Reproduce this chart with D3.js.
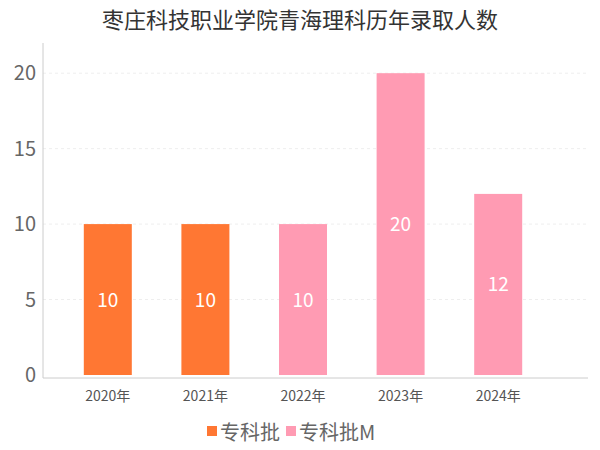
<!DOCTYPE html><html><head><meta charset="utf-8"><script src="https://cdn.jsdelivr.net/npm/d3@7"></script>
<style>body{margin:0;background:#fff}text{font-family:"Noto Sans CJK SC","Noto Sans",sans-serif}</style></head><body>
<svg id="c" width="600" height="450"></svg>
<script>
const years=["2020年","2021年","2022年","2023年","2024年"];
const values=[10,10,10,20,12];
const batches=["专科批","专科批","专科批M","专科批M","专科批M"];
const legendNames=["专科批","专科批M"];
const colors={"专科批":"#FF7733","专科批M":"#FF9BB3"};
const yTicks=[0,5,10,15,20];
const svg=d3.select("#c");
svg.append("text").attr("x",300).attr("y",28).attr("text-anchor","middle").attr("font-size",22).attr("fill","#333").text("枣庄科技职业学院青海理科历年录取人数");
const x=d3.scaleBand().domain(years).range([59,547]).paddingInner(0.5).paddingOuter(0.25);
const y=d3.scaleLinear().domain([0,22]).range([375,43]);
svg.append("g").selectAll("line").data(yTicks.slice(1)).join("line").attr("x1",43).attr("x2",588).attr("y1",d=>y(d)).attr("y2",d=>y(d)).attr("stroke","#eee").attr("stroke-dasharray","3,3");
svg.append("line").attr("x1",43).attr("x2",43).attr("y1",43).attr("y2",378).attr("stroke","#ccc");
svg.append("line").attr("x1",43).attr("x2",588).attr("y1",378).attr("y2",378).attr("stroke","#ccc");
svg.append("g").selectAll("text").data(yTicks).join("text").attr("x",36).attr("y",d=>y(d)+7).attr("text-anchor","end").attr("font-size",20).attr("fill","#666").text(d=>d);
const bw=48;
svg.append("g").selectAll("rect").data(values).join("rect").attr("x",(d,i)=>x(years[i])+x.bandwidth()/2-bw/2).attr("width",bw).attr("y",d=>y(d)).attr("height",d=>y(0)-y(d)).attr("fill",(d,i)=>colors[batches[i]]);
svg.append("g").selectAll("text").data(values).join("text").attr("x",(d,i)=>x(years[i])+x.bandwidth()/2).attr("y",d=>(y(d)+y(0))/2+7).attr("text-anchor","middle").attr("font-size",19).attr("fill","#fff").text(d=>d);
svg.append("g").selectAll("text").data(years).join("text").attr("x",d=>x(d)+x.bandwidth()/2).attr("y",401).attr("text-anchor","middle").attr("font-size",14).attr("fill","#555").text(d=>d);
const lg=svg.append("g");
let lx=207;
legendNames.forEach(n=>{lg.append("rect").attr("x",lx).attr("y",426).attr("width",10).attr("height",10).attr("fill",colors[n]);
const t=lg.append("text").attr("x",lx+13).attr("y",440).attr("font-size",20).attr("fill","#666").text(n);lx+=t.node().getComputedTextLength()+19;});
</script></body></html>
